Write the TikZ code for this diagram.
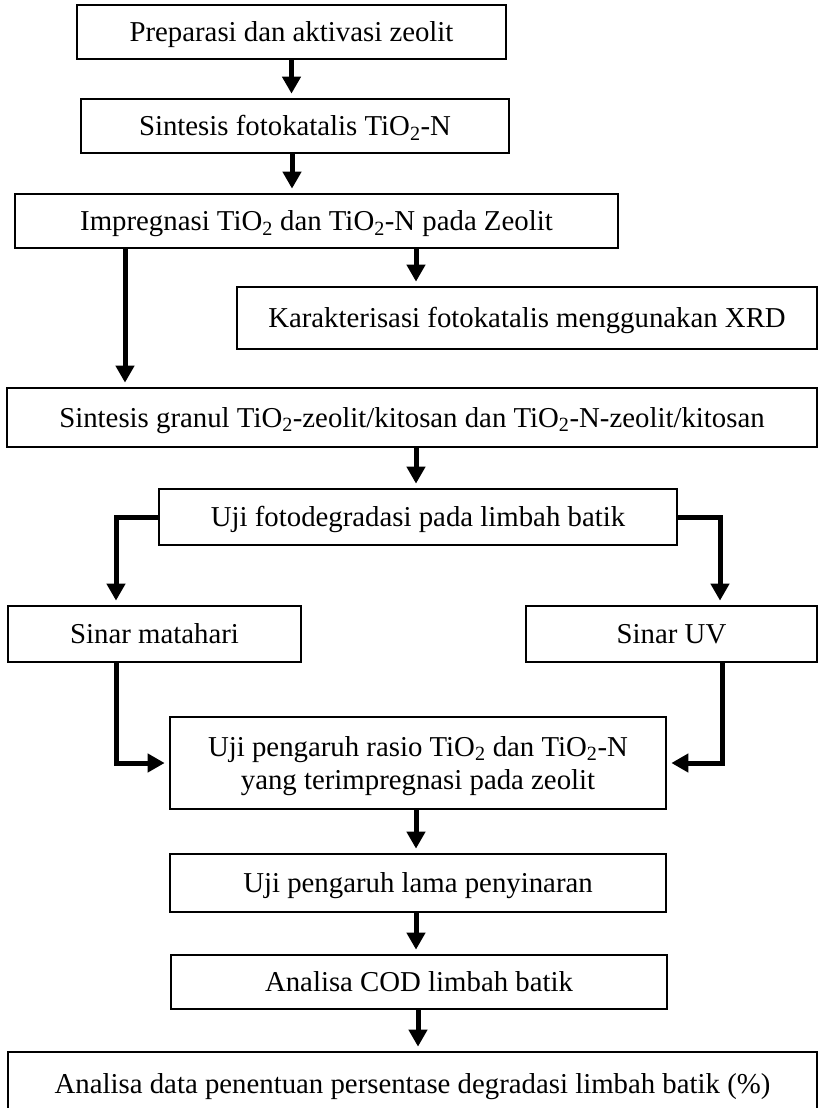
\documentclass[tikz,border=0pt]{standalone}
\usepackage{fontspec}
\setmainfont{Liberation Serif}
\usetikzlibrary{arrows.meta}
\begin{document}
\begin{tikzpicture}[x=1pt,y=-1pt]
\tikzset{
 box/.style={draw, line width=2.7pt, inner sep=0pt, font=\fontsize{28.8}{33}\selectfont, text height=19pt, text depth=0pt, align=center},
 arr/.style={line width=5pt, -{Triangle[width=18pt,length=17pt]}, shorten >=4pt},
}
\useasboundingbox (0,0) rectangle (818,1108);
\node[box, minimum width=429pt, minimum height=54pt] (b1) at (291.5,32) {Preparasi dan aktivasi zeolit};
\node[box, minimum width=428pt, minimum height=54pt] (b2) at (295,126) {Sintesis fotokatalis TiO\textsubscript{2}-N};
\node[box, minimum width=603pt, minimum height=54pt] (b3) at (316.5,221) {Impregnasi TiO\textsubscript{2} dan TiO\textsubscript{2}-N pada Zeolit};
\node[box, minimum width=580pt, minimum height=62pt] (b4) at (527,318) {Karakterisasi fotokatalis menggunakan XRD};
\node[box, minimum width=810pt, minimum height=59pt] (b5) at (412,417.5) {Sintesis granul TiO\textsubscript{2}-zeolit/kitosan dan TiO\textsubscript{2}-N-zeolit/kitosan};
\node[box, minimum width=518pt, minimum height=56pt] (b6) at (418,517) {Uji fotodegradasi pada limbah batik};
\node[box, minimum width=293pt, minimum height=56pt] (b7) at (154.5,634) {Sinar matahari};
\node[box, minimum width=291pt, minimum height=56pt] (b8) at (671.5,634) {Sinar UV};
\node[box, text height=52pt, minimum width=496pt, minimum height=92pt] (b9) at (418,763) {Uji pengaruh rasio TiO\textsubscript{2} dan TiO\textsubscript{2}-N\\yang terimpregnasi pada zeolit};
\node[box, minimum width=496pt, minimum height=58pt] (b10) at (418,883) {Uji pengaruh lama penyinaran};
\node[box, minimum width=496pt, minimum height=54pt] (b11) at (419,982) {Analisa COD limbah batik};
\node[box, minimum width=809pt, minimum height=64pt] (b12) at (412.5,1084) {Analisa data penentuan persentase degradasi limbah batik (\%)};
\coordinate (c1) at (292,0);
\coordinate (cL) at (125,0);
\coordinate (cR) at (416,0);
\coordinate (cM) at (116,0);
\coordinate (cU) at (720,0);
\coordinate (cU2) at (722,0);
\coordinate (cB) at (418,0);
\draw[arr] (b1.south) -- (b1.south |- b2.north);
\draw[arr] (b2.south -| c1) -- (b3.north -| c1);
\draw[arr] (b3.south -| cL) -- (b5.north -| cL);
\draw[arr] (b3.south -| cR) -- (b4.north -| cR);
\draw[arr] (b5.south -| cR) -- (b6.north -| cR);
\draw[arr] (b6.west) -| (b7.north -| cM);
\draw[arr] (b6.east) -| (b8.north -| cU);
\draw[arr] (b7.south -| cM) |- (b9.west);
\draw[arr] (b8.south -| cU2) |- (b9.east);
\draw[arr] (b9.south -| cR) -- (b10.north -| cR);
\draw[arr] (b10.south -| cR) -- (b11.north -| cR);
\draw[arr] (b11.south -| cB) -- (b12.north -| cB);
\end{tikzpicture}
\end{document}
